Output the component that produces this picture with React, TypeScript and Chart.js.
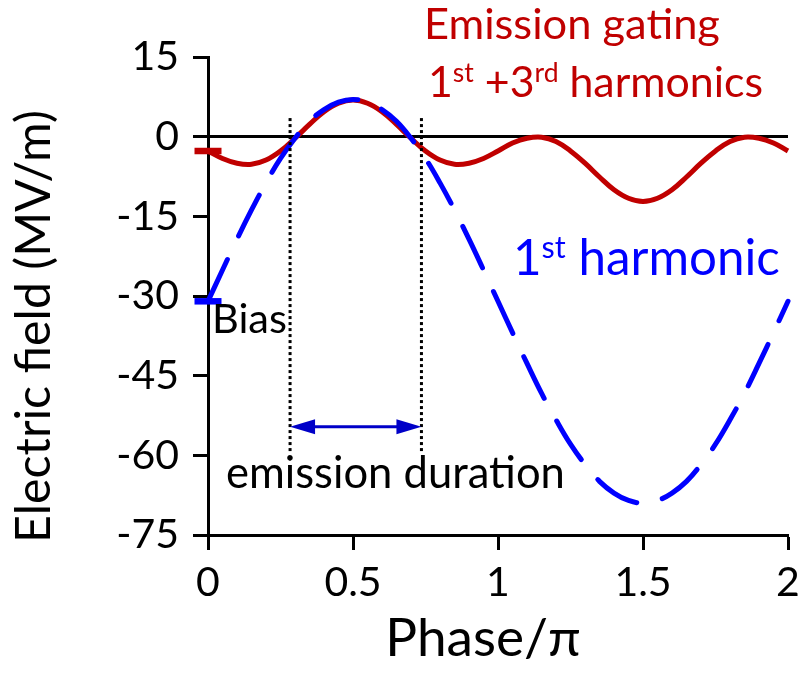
import React, { useEffect, useRef } from 'react';
import { Chart, registerables } from 'chart.js';

Chart.register(...registerables);

// Phase, in units of π
const phase = [
  0, 0.05, 0.1, 0.15, 0.2, 0.25, 0.3, 0.35, 0.4, 0.45, 0.5, 0.55, 0.6, 0.65, 0.7, 0.75, 0.8, 0.85, 0.9, 0.95,
  1, 1.05, 1.1, 1.15, 1.2, 1.25, 1.3, 1.35, 1.4, 1.45, 1.5, 1.55, 1.6, 1.65, 1.7, 1.75, 1.8, 1.85, 1.9, 1.95, 2,
];

// Electric field (MV/m): single-harmonic drive riding on the DC bias
const firstHarmonic = [
  -31.0, -25.1, -19.3, -13.8, -8.7, -4.1, -0.3, 2.9, 5.1, 6.5, 7.0, 6.5, 5.1, 2.9, -0.3, -4.1, -8.7, -13.8, -19.3, -25.1,
  -31.0, -36.9, -42.7, -48.3, -53.3, -57.9, -61.7, -64.9, -67.1, -68.5, -69.0, -68.5, -67.1, -64.9, -61.7, -57.9, -53.3,
  -48.3, -42.7, -36.9, -31.0,
];

// Electric field (MV/m): 1st + 3rd harmonic gating waveform
const gatedField = [
  -2.7, -4.1, -5.0, -5.2, -4.4, -2.7, -0.3, 2.3, 4.7, 6.3, 6.9, 6.3, 4.7, 2.3, -0.3, -2.7, -4.4, -5.2, -5.0, -4.1,
  -2.7, -1.2, -0.3, -0.1, -0.9, -2.7, -5.0, -7.6, -10.0, -11.6, -12.2, -11.6, -10.0, -7.6, -5.0, -2.7, -0.9, -0.1,
  -0.3, -1.2, -2.7,
];

const xTicks = [0, 0.5, 1, 1.5, 2];
const xTickLabels = ['0', '0.5', '1', '1.5', '2'];
const yTicks = [15, 0, -15, -30, -45, -60, -75];

// Phase window during which the field is positive, and the arrow level / marker extent (MV/m)
const emissionWindow = [0.283, 0.736];
const windowTop = 3.5;
const windowBottom = -59.3;
const arrowLevel = -54.6;

const BLUE = '#0000FF';
const ARROW_BLUE = '#0000C8';
const RED = '#C00000';
const FONT = 'Lato, "Open Sans", sans-serif';
const SUP_SCALE = 0.62;
const SUP_RAISE = 0.34;

type Run = { text: string; sup?: boolean };

function runsWidth(ctx: CanvasRenderingContext2D, runs: Run[], size: number) {
  let w = 0;
  for (const r of runs) {
    ctx.font = `${r.sup ? size * SUP_SCALE : size}px ${FONT}`;
    w += ctx.measureText(r.text).width;
  }
  return w;
}

function fitSize(ctx: CanvasRenderingContext2D, runs: Run[], width: number) {
  return (100 * width) / runsWidth(ctx, runs, 100);
}

function drawRuns(ctx: CanvasRenderingContext2D, runs: Run[], x: number, baseline: number, size: number, color: string) {
  ctx.fillStyle = color;
  ctx.textAlign = 'left';
  ctx.textBaseline = 'alphabetic';
  let cx = x;
  for (const r of runs) {
    const s = r.sup ? size * SUP_SCALE : size;
    ctx.font = `${s}px ${FONT}`;
    ctx.fillText(r.text, cx, r.sup ? baseline - size * SUP_RAISE : baseline);
    cx += ctx.measureText(r.text).width;
  }
}

const labels: { runs: Run[]; left: number; right: number; baseline: number; color: string }[] = [
  { runs: [{ text: 'Emission gating' }], left: 424, right: 720, baseline: 39, color: RED },
  {
    runs: [{ text: '1' }, { text: 'st', sup: true }, { text: ' +3' }, { text: 'rd', sup: true }, { text: ' harmonics' }],
    left: 428, right: 763, baseline: 97, color: RED,
  },
  { runs: [{ text: '1' }, { text: 'st', sup: true }, { text: ' harmonic' }], left: 513, right: 780, baseline: 275, color: BLUE },
  { runs: [{ text: 'Bias' }], left: 212, right: 287, baseline: 333, color: '#000' },
  { runs: [{ text: 'emission duration' }], left: 226, right: 565, baseline: 488, color: '#000' },
];

const yTitle: Run[] = [{ text: 'Electric field (MV/m)' }];
const xTitle: Run[] = [{ text: 'Phase/π' }];

const annotate = {
  id: 'annotate',
  afterDatasetsDraw(chart: any) {
    const { ctx, scales } = chart;
    const xs = scales.x;
    const ys = scales.y;
    ctx.save();
    // dotted boundaries of the emission window
    ctx.strokeStyle = '#000';
    ctx.lineWidth = 3;
    ctx.setLineDash([3, 3]);
    for (const p of emissionWindow) {
      const px = xs.getPixelForValue(p);
      ctx.beginPath();
      ctx.moveTo(px, ys.getPixelForValue(windowTop));
      ctx.lineTo(px, ys.getPixelForValue(windowBottom));
      ctx.stroke();
    }
    ctx.setLineDash([]);
    // double-headed arrow spanning the window
    const ay = ys.getPixelForValue(arrowLevel);
    const x0 = xs.getPixelForValue(emissionWindow[0]);
    const x1 = xs.getPixelForValue(emissionWindow[1]);
    const head = 25;
    const half = 7.5;
    ctx.strokeStyle = ARROW_BLUE;
    ctx.fillStyle = ARROW_BLUE;
    ctx.lineWidth = 3;
    ctx.beginPath();
    ctx.moveTo(x0 + head - 2, ay);
    ctx.lineTo(x1 - head + 2, ay);
    ctx.stroke();
    ctx.beginPath();
    ctx.moveTo(x0, ay);
    ctx.lineTo(x0 + head, ay - half);
    ctx.lineTo(x0 + head, ay + half);
    ctx.closePath();
    ctx.fill();
    ctx.beginPath();
    ctx.moveTo(x1, ay);
    ctx.lineTo(x1 - head, ay - half);
    ctx.lineTo(x1 - head, ay + half);
    ctx.closePath();
    ctx.fill();
    ctx.restore();
  },
  afterDraw(chart: any) {
    const { ctx } = chart;
    ctx.save();
    for (const l of labels) {
      const size = fitSize(ctx, l.runs, l.right - l.left);
      drawRuns(ctx, l.runs, l.left, l.baseline, size, l.color);
    }
    // axis titles
    const titleSize = fitSize(ctx, yTitle, 543 - 110);
    ctx.save();
    ctx.translate(50, 543);
    ctx.rotate(-Math.PI / 2);
    drawRuns(ctx, yTitle, 0, 0, titleSize, '#000');
    ctx.restore();
    const xSize = titleSize * 1.1;
    const xw = runsWidth(ctx, xTitle, xSize);
    drawRuns(ctx, xTitle, 483 - xw / 2, 656, xSize, '#000');
    ctx.restore();
  },
};

export default function App() {
  const ref = useRef<HTMLCanvasElement>(null);

  useEffect(() => {
    const canvas = ref.current;
    if (!canvas) return;
    const tickFont = { family: FONT, size: 41 };
    const chart = new Chart(canvas, {
      type: 'line',
      data: {
        datasets: [
          {
            label: '1st harmonic',
            data: phase.map((p, i) => ({ x: p, y: firstHarmonic[i] })),
            borderColor: BLUE,
            borderWidth: 5,
            borderDash: [46, 26],
            borderCapStyle: 'round',
            tension: 0.4,
            fill: false,
            clip: false,
            pointStyle: 'line',
            pointRadius: (c: any) => (c.dataIndex === 0 ? 13.5 : 0),
            pointBorderWidth: 6.5,
            pointBorderColor: BLUE,
            pointBackgroundColor: BLUE,
          },
          {
            label: 'Emission gating 1st +3rd harmonics',
            data: phase.map((p, i) => ({ x: p, y: gatedField[i] })),
            borderColor: RED,
            borderWidth: 5,
            tension: 0.4,
            fill: false,
            clip: false,
            pointStyle: 'line',
            pointRadius: (c: any) => (c.dataIndex === 0 ? 13.5 : 0),
            pointBorderWidth: 6.5,
            pointBorderColor: RED,
            pointBackgroundColor: RED,
          },
        ],
      },
      options: {
        animation: false,
        responsive: false,
        events: [],
        layout: { autoPadding: false, padding: { top: 57, right: 13, bottom: 0, left: 0 } },
        plugins: { legend: { display: false }, tooltip: { enabled: false } },
        scales: {
          x: {
            type: 'linear',
            min: 0,
            max: 2,
            afterBuildTicks: (s: any) => {
              s.ticks = xTicks.map((v) => ({ value: v }));
            },
            afterFit: (s: any) => {
              s.height = 149;
              s.paddingLeft = 0;
              s.paddingRight = 0;
            },
            ticks: {
              callback: (v: any) => xTickLabels[xTicks.indexOf(Number(v))],
              font: tickFont,
              color: '#000',
              padding: 8,
              maxRotation: 0,
              autoSkip: false,
            },
            grid: { drawOnChartArea: false, tickLength: 15, tickWidth: 3, tickColor: '#000' },
            border: { display: true, color: '#000', width: 3 },
          },
          y: {
            type: 'linear',
            min: -75,
            max: 15,
            afterBuildTicks: (s: any) => {
              s.ticks = yTicks.map((v) => ({ value: v }));
            },
            afterFit: (s: any) => {
              s.width = 208;
            },
            ticks: {
              callback: (v: any) => String(v),
              font: tickFont,
              color: '#000',
              padding: 14,
              autoSkip: false,
            },
            grid: {
              color: (c: any) => (c.tick && c.tick.value === 0 ? '#000' : 'rgba(0,0,0,0)'),
              lineWidth: 3,
              tickLength: 15,
              tickWidth: 3,
              tickColor: '#000',
            },
            border: { display: true, color: '#000', width: 3 },
          },
        },
      },
      plugins: [annotate],
    } as any);
    return () => chart.destroy();
  }, []);

  return (
    <div style={{ position: 'fixed', left: 0, top: 0, width: 801, height: 684, background: '#fff' }}>
      <canvas ref={ref} width={801} height={684} style={{ display: 'block' }} />
    </div>
  );
}
